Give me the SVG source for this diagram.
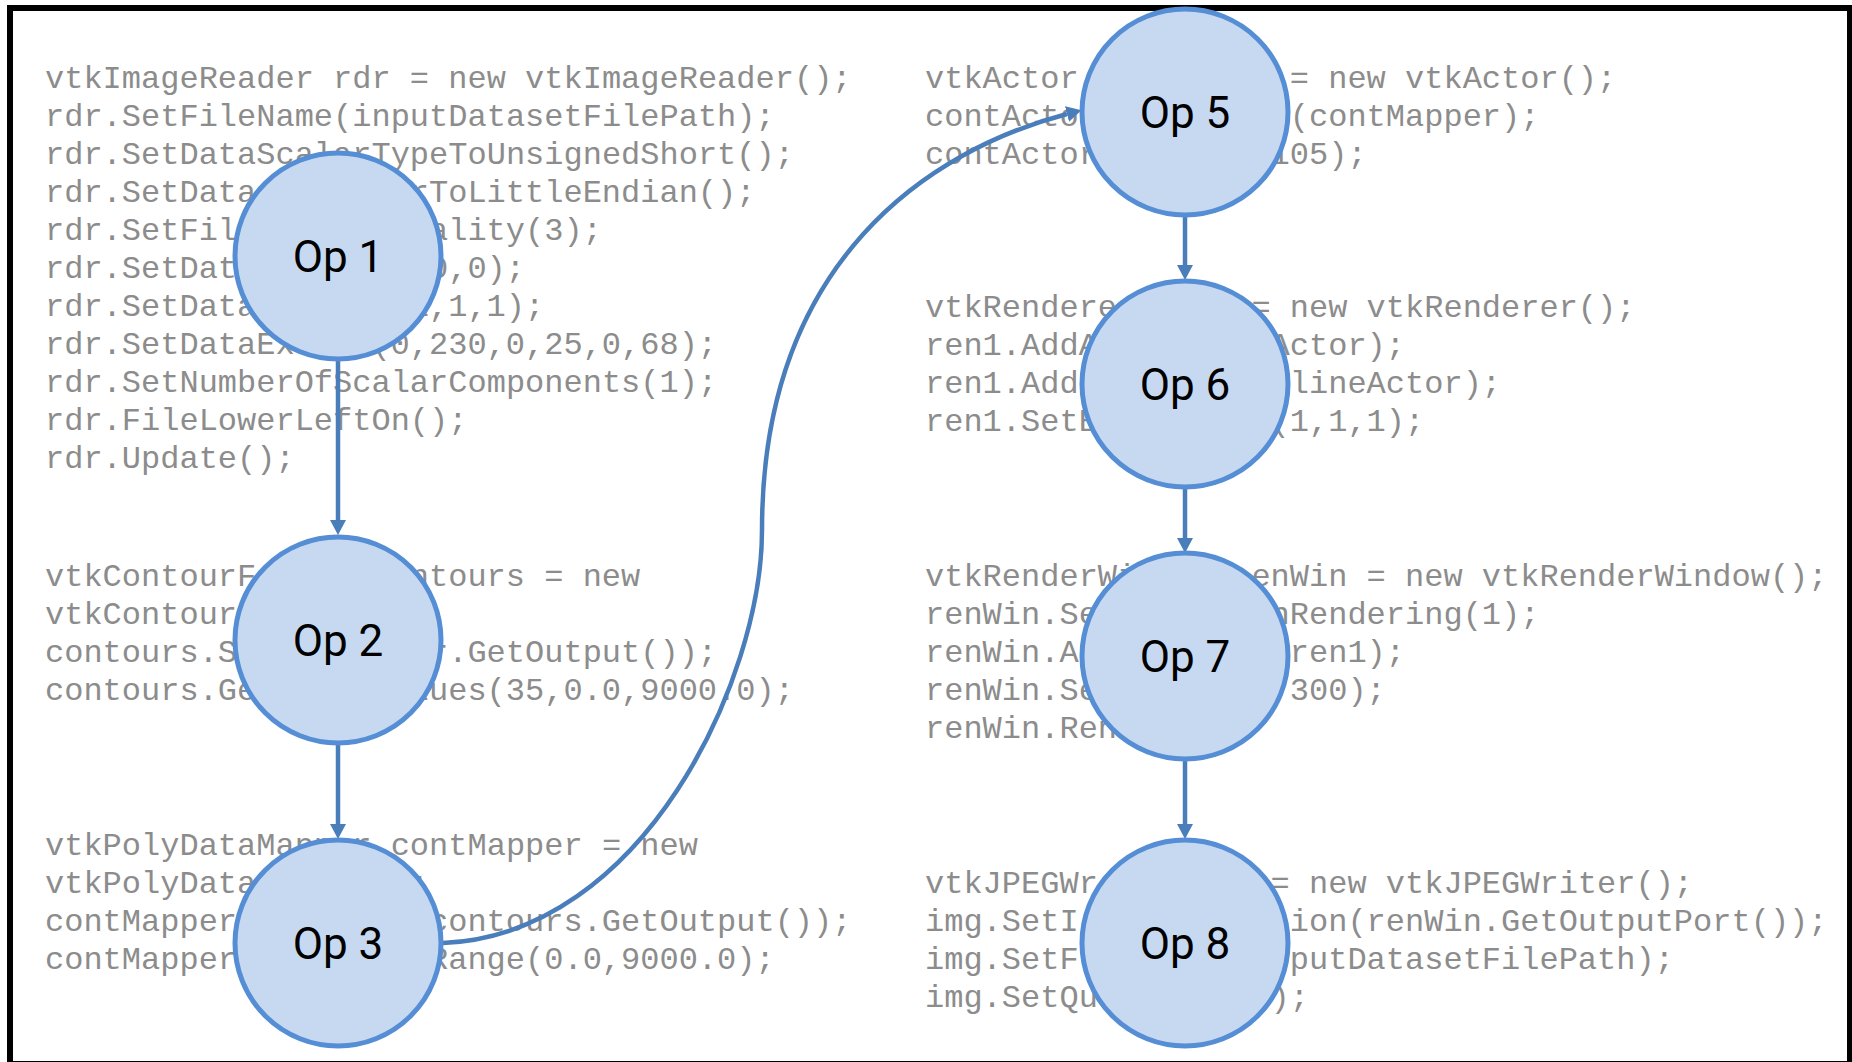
<svg xmlns="http://www.w3.org/2000/svg" width="1852" height="1062" viewBox="0 0 1852 1062">
  <defs>
    <style>
      .code { font-family: "Liberation Mono", "DejaVu Sans Mono", monospace; font-size: 32px; fill: #8c8c8c; white-space: pre; }
      .op circle { fill: #c6d9f1; stroke: #558ed5; stroke-width: 5; }
      .op text { font-family: Roboto, "Liberation Sans", sans-serif; font-size: 44px; fill: #000; text-anchor: middle; }
      .edge { fill: none; stroke: #4a7ebb; stroke-width: 4.5; }
    </style>
    <marker id="arrow" markerUnits="userSpaceOnUse" markerWidth="16" markerHeight="16" refX="0" refY="8" orient="auto">
      <path d="M0,0 L15,8 L0,16 Z" fill="#4a7ebb"/>
    </marker>
  </defs>

  <rect width="1852" height="1062" fill="#ffffff"/>
  <!-- outer frame -->
  <rect x="10" y="8" width="1840" height="1056" fill="none" stroke="#000000" stroke-width="6"/>

  <!-- source code listing per operation; monospace cells are 19.2px wide -->
  <g id="code-op1" class="code">
    <text x="45" y="88">vtkImageReader rdr = new vtkImageReader();</text>
    <text x="45" y="126">rdr.SetFileName(inputDatasetFilePath);</text>
    <text x="45" y="164">rdr.SetDataScalarTypeToUnsignedShort();</text>
    <text x="45" y="202">rdr.SetData</text><text x="409.8" y="202">rToLittleEndian();</text>
    <text x="45" y="240">rdr.SetFil</text><text x="429" y="240">ality(3);</text>
    <text x="45" y="278">rdr.SetDat</text><text x="429" y="278">0,0);</text>
    <text x="45" y="316">rdr.SetData</text><text x="409.8" y="316">1,1,1);</text>
    <text x="45" y="354">rdr.SetDataEx</text><text x="371.4" y="354">(0,230,0,25,0,68);</text>
    <text x="45" y="392">rdr.SetNumberOfScalarComponents(1);</text>
    <text x="45" y="430">rdr.FileLowerLeftOn();</text>
    <text x="45" y="468">rdr.Update();</text>
  </g>
  <g id="code-op2" class="code">
    <text x="45" y="586">vtkContourF</text><text x="390.6" y="586">ontours = new</text>
    <text x="45" y="624">vtkContour</text>
    <text x="45" y="662">contours.S</text><text x="429" y="662">r.GetOutput());</text>
    <text x="45" y="700">contours.Ge</text><text x="409.8" y="700">lues(35,0.0,9000.0);</text>
  </g>
  <g id="code-op3" class="code">
    <text x="45" y="855">vtkPolyDataMapper contMapper = new</text>
    <text x="45" y="893">vtkPolyData</text><text x="409.8" y="893">;</text>
    <text x="45" y="931">contMapper</text><text x="429" y="931">contours.GetOutput());</text>
    <text x="45" y="969">contMapper</text><text x="429" y="969">Range(0.0,9000.0);</text>
  </g>
  <g id="code-op5" class="code">
    <text x="925" y="88">vtkActor</text><text x="1289.8" y="88">= new vtkActor();</text>
    <text x="925" y="126">contActo</text><text x="1289.8" y="126">(contMapper);</text>
    <text x="925" y="164">contActor</text><text x="1270.6" y="164">105);</text>
  </g>
  <g id="code-op6" class="code">
    <text x="925" y="317">vtkRenderer</text><text x="1251.4" y="317">= new vtkRenderer();</text>
    <text x="925" y="355">ren1.AddA</text><text x="1270.6" y="355">Actor);</text>
    <text x="925" y="393">ren1.Add</text><text x="1289.8" y="393">lineActor);</text>
    <text x="925" y="431">ren1.SetB</text><text x="1270.6" y="431">(1,1,1);</text>
  </g>
  <g id="code-op7" class="code">
    <text x="925" y="586">vtkRenderWi</text><text x="1251.4" y="586">enWin = new vtkRenderWindow();</text>
    <text x="925" y="624">renWin.Se</text><text x="1270.6" y="624">nRendering(1);</text>
    <text x="925" y="662">renWin.A</text><text x="1289.8" y="662">ren1);</text>
    <text x="925" y="700">renWin.Se</text><text x="1270.6" y="700">,300);</text>
    <text x="925" y="738">renWin.Ren</text>
  </g>
  <g id="code-op8" class="code">
    <text x="925" y="893">vtkJPEGWr</text><text x="1270.6" y="893">= new vtkJPEGWriter();</text>
    <text x="925" y="931">img.SetI</text><text x="1289.8" y="931">ion(renWin.GetOutputPort());</text>
    <text x="925" y="969">img.SetF</text><text x="1289.8" y="969">putDatasetFilePath);</text>
    <text x="925" y="1007">img.SetQu</text><text x="1270.6" y="1007">);</text>
  </g>

  <!-- pipeline connectors -->
  <g id="connectors">
    <path id="e1-2" class="edge" d="M338,361 L338,520" marker-end="url(#arrow)"/>
    <path id="e2-3" class="edge" d="M338,745 L338,824" marker-end="url(#arrow)"/>
    <path id="e3-5" class="edge" d="M443,943 C643,935 762,680 762,530 C762,260 930,150 1067,114" marker-end="url(#arrow)"/>
    <path id="e5-6" class="edge" d="M1185,217 L1185,265" marker-end="url(#arrow)"/>
    <path id="e6-7" class="edge" d="M1185,489 L1185,538" marker-end="url(#arrow)"/>
    <path id="e7-8" class="edge" d="M1185,761 L1185,824" marker-end="url(#arrow)"/>
  </g>

  <!-- operation nodes -->
  <g id="op1" class="op"><circle cx="338" cy="256" r="103"/><text x="338" y="272">Op 1</text></g>
  <g id="op2" class="op"><circle cx="338" cy="640" r="103"/><text x="338" y="656">Op 2</text></g>
  <g id="op3" class="op"><circle cx="338" cy="943" r="103"/><text x="338" y="959">Op 3</text></g>
  <g id="op5" class="op"><circle cx="1185" cy="112" r="103"/><text x="1185" y="128">Op 5</text></g>
  <g id="op6" class="op"><circle cx="1185" cy="384" r="103"/><text x="1185" y="400">Op 6</text></g>
  <g id="op7" class="op"><circle cx="1185" cy="656" r="103"/><text x="1185" y="672">Op 7</text></g>
  <g id="op8" class="op"><circle cx="1185" cy="943" r="103"/><text x="1185" y="959">Op 8</text></g>
</svg>
